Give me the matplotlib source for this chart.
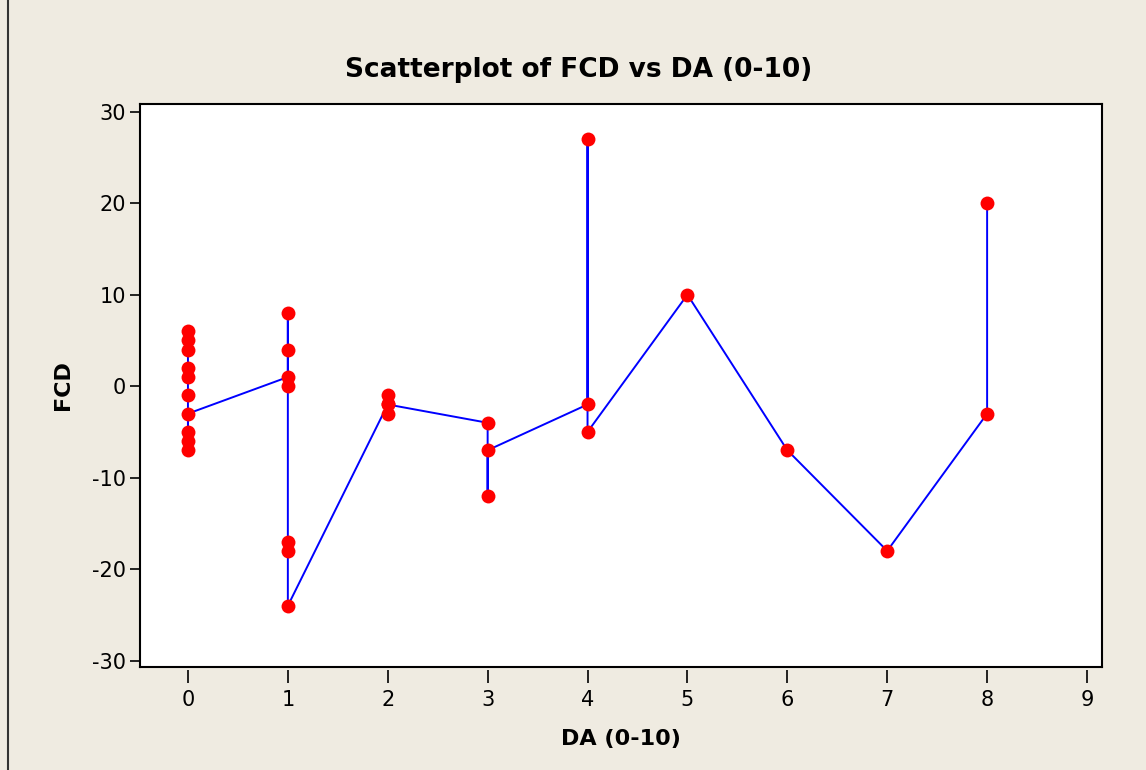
import matplotlib
matplotlib.use("Agg")
import matplotlib.pyplot as plt
from matplotlib.lines import Line2D

# Data (in plotting/connection order)
da = [0, 0, 0, 0, 0, 0, 0, 0, 0, 0,
      1, 1, 1, 1, 1, 1, 1,
      2, 2, 2, 2,
      3, 3, 3,
      4, 4, 4,
      5, 6, 7,
      8, 8]
fcd = [6, 5, 4, 2, 1, -1, -5, -6, -7, -3,
       1, 8, 4, 0, -17, -18, -24,
       -2, -1, -3, -2,
       -4, -12, -7,
       -2, 27, -5,
       10, -7, -18,
       -3, 20]
xticks = list(range(0, 10))
yticks = [-30, -20, -10, 0, 10, 20, 30]

bg = "#EFEBE1"
fig = plt.figure(figsize=(11.46, 7.70), dpi=100, facecolor=bg)
ax = fig.add_axes([140/1146, 1-667/770, (1102-140)/1146, (667-104)/770])
ax.set_facecolor("white")

ax.plot(da, fcd, color="#0000FF", lw=1.4, zorder=2)
ax.plot(da, fcd, linestyle="none", marker="o", ms=10, color="#FF0000",
        markeredgecolor="#FF0000", markeredgewidth=0, zorder=3)

ax.set_xlim(-0.48, 9.15)
ax.set_ylim(-30.69, 30.84)
ax.set_yticks(yticks)
ax.set_yticklabels([str(v) for v in yticks], fontsize=15)
ax.tick_params(axis="y", direction="out", length=7, width=1.2, pad=3)
ax.set_xticks([])
for s in ax.spines.values():
    s.set_linewidth(1.5)
    s.set_color("black")

sec = ax.secondary_xaxis(-0.006)
sec.set_xticks(xticks)
sec.set_xticklabels([str(v) for v in xticks], fontsize=15)
sec.tick_params(axis="x", direction="out", length=9, width=1.2, pad=5)
sec.spines["bottom"].set_visible(False)
sec.set_xlabel("DA (0-10)", fontsize=16, fontweight="bold", labelpad=14)

ax.set_ylabel("FCD", fontsize=16, fontweight="bold", labelpad=14)
fig.text(579/1146, 1 - 70/770, "Scatterplot of FCD vs DA (0-10)",
         ha="center", va="center", fontsize=19, fontweight="bold")

# left border line
fig.add_artist(Line2D([8/1146, 8/1146], [0, 1], transform=fig.transFigure,
                      color="#333333", lw=1.5))

fig.savefig("out.png", dpi=100, facecolor=bg)
